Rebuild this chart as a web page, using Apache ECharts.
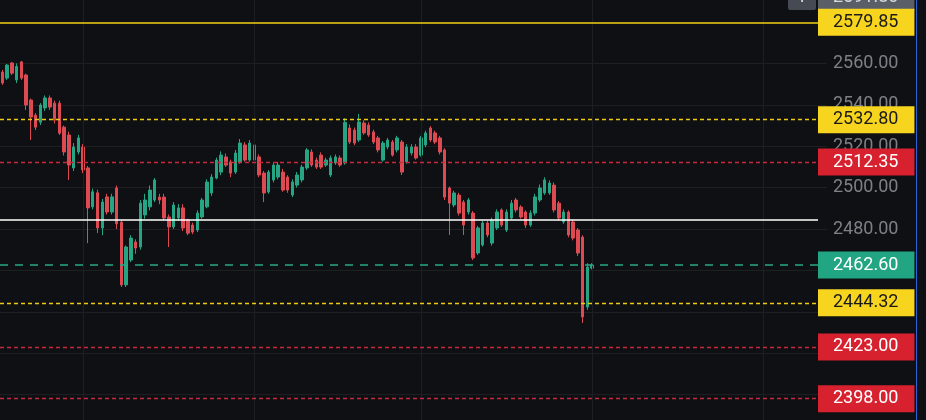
<!DOCTYPE html>
<html>
<head>
<meta charset="utf-8">
<script src="https://cdn.jsdelivr.net/npm/echarts@6/dist/echarts.min.js"></script>
<style>
html,body{margin:0;padding:0;background:#0f1013;}
#chart{width:926px;height:420px;}
</style>
</head>
<body>
<div id="chart"></div>
<script>
// Candles: [open, close, low, high]
const candles = [
  [2555.8,2550.5,2549.6,2556.8],[2552.9,2559.2,2552.0,2559.7],[2560.2,2555.3,2554.4,2560.7],[2552.0,2558.5,2550.5,2560.0],
  [2560.7,2552.9,2552.0,2561.2],[2554.4,2539.9,2537.5,2555.0],[2542.3,2534.1,2523.0,2543.0],[2535.0,2529.2,2527.8,2536.0],
  [2531.6,2539.9,2530.2,2540.8],[2538.5,2543.3,2537.0,2544.5],[2543.3,2538.9,2537.5,2544.5],[2540.8,2532.6,2531.0,2542.0],
  [2540.8,2526.3,2525.4,2542.0],[2529.2,2517.2,2515.5,2530.0],[2525.4,2510.9,2503.7,2527.0],[2509.5,2519.6,2508.0,2521.5],
  [2517.2,2524.0,2516.0,2525.5],[2519.6,2508.5,2507.0,2521.0],[2509.5,2490.2,2473.2,2510.5],[2490.7,2498.0,2489.5,2499.5],
  [2497.5,2480.5,2478.0,2499.0],[2480.5,2493.0,2477.0,2494.5],[2495.5,2488.2,2487.0,2497.0],[2488.2,2495.5,2487.0,2497.0],
  [2499.8,2482.5,2480.0,2501.0],
  [2483.3,2453.0,2452.0,2484.0],[2453.0,2471.3,2452.0,2472.0],[2465.0,2475.6,2464.0,2477.0],[2473.7,2470.8,2468.0,2475.0],
  [2471.3,2492.5,2470.0,2494.0],[2486.8,2494.0,2485.0,2497.0],[2490.7,2498.8,2489.0,2501.0],[2494.0,2503.7,2493.0,2504.6],
  [2495.4,2494.0,2492.0,2497.0],[2495.4,2485.3,2484.0,2497.0],[2485.8,2481.0,2471.3,2487.0],[2481.0,2491.6,2480.0,2493.0],
  [2485.3,2490.2,2484.0,2492.0],[2490.2,2480.5,2479.0,2492.0],[2484.3,2478.0,2477.0,2485.0],[2481.9,2478.5,2477.5,2483.0],
  [2479.5,2487.7,2478.5,2489.0],[2485.8,2494.0,2485.0,2495.0],[2490.7,2502.7,2490.0,2504.0],[2497.4,2505.1,2496.0,2506.5],
  [2504.6,2513.3,2504.0,2514.5],[2507.5,2515.7,2506.0,2517.5],[2514.8,2510.9,2510.0,2516.5],[2512.4,2507.0,2505.0,2513.5],
  [2507.5,2516.7,2506.6,2518.2],[2512.4,2521.5,2511.5,2523.5],[2520.6,2513.3,2512.5,2522.0],[2513.3,2521.5,2512.5,2523.0],
  [2520.6,2513.3,2512.0,2522.0],[2514.8,2506.1,2505.0,2516.0],[2507.0,2497.4,2493.0,2508.0],[2497.9,2507.5,2497.0,2508.5],
  [2503.7,2510.9,2502.5,2512.0],[2505.1,2510.9,2504.0,2512.4],[2507.5,2498.8,2498.0,2509.0],[2505.1,2498.8,2497.5,2506.0],
  [2496.4,2502.7,2495.4,2504.0],[2501.2,2506.1,2500.0,2507.5],[2503.7,2509.9,2502.5,2511.0],[2509.5,2518.2,2508.5,2519.1],
  [2517.2,2510.9,2510.0,2518.5],[2513.3,2509.9,2509.0,2514.5],[2515.7,2509.9,2509.0,2517.0],[2510.9,2513.3,2510.0,2514.5],
  [2506.1,2514.3,2505.1,2515.5],[2511.9,2514.8,2511.0,2516.0],[2514.3,2510.9,2510.0,2515.5],[2511.9,2531.5,2511.0,2533.5],
  [2528.8,2522.0,2521.0,2530.5],[2527.8,2521.5,2520.5,2529.0],[2523.0,2531.7,2522.0,2535.6],[2531.2,2526.4,2525.5,2532.5],
  [2530.2,2525.4,2524.5,2531.5],[2526.9,2522.0,2521.0,2528.0],[2524.0,2518.2,2517.0,2525.0],[2513.3,2521.5,2512.5,2522.5],
  [2519.6,2523.0,2518.5,2524.0],[2522.0,2515.7,2515.0,2523.0],[2518.2,2524.0,2517.0,2525.0],[2522.0,2507.5,2506.1,2523.0],
  [2512.4,2519.6,2511.5,2521.0],[2516.7,2519.6,2515.5,2521.0],[2519.6,2514.3,2513.5,2521.0],[2515.7,2524.0,2515.0,2525.0],
  [2520.6,2526.4,2519.5,2527.5],[2528.8,2523.0,2522.0,2529.7],[2526.4,2522.0,2521.0,2527.5],[2524.0,2517.2,2516.0,2525.0],
  [2518.2,2495.4,2494.0,2519.0],[2499.8,2492.5,2477.1,2500.5],[2491.6,2497.4,2490.5,2498.5],[2496.4,2487.7,2486.5,2497.5],
  [2493.0,2481.9,2477.1,2494.0],
  [2488.2,2494.0,2487.0,2495.0],[2487.7,2466.0,2465.0,2488.7],[2468.4,2480.5,2467.5,2481.5],[2472.3,2482.9,2471.5,2484.0],
  [2482.9,2477.1,2476.0,2484.0],[2473.2,2484.3,2472.0,2485.5],[2480.5,2488.2,2479.5,2489.5],[2489.2,2481.9,2481.0,2490.0],
  [2479.5,2488.2,2478.5,2489.5],[2485.3,2492.5,2484.5,2494.0],[2494.0,2489.2,2488.0,2495.0],[2490.6,2485.8,2485.0,2491.5],
  [2488.2,2481.9,2480.5,2489.0],[2481.9,2487.7,2481.0,2489.0],[2487.7,2495.5,2486.5,2497.0],[2494.0,2499.8,2493.0,2501.5],
  [2497.4,2503.7,2496.5,2505.0],[2497.4,2502.2,2496.5,2503.5],[2501.2,2489.2,2488.0,2502.5],[2492.5,2485.3,2484.0,2493.5],
  [2483.4,2488.2,2482.5,2489.5],[2488.2,2477.1,2476.0,2489.0],[2483.4,2475.6,2474.5,2484.5],[2479.5,2468.4,2467.0,2480.5],
  [2476.1,2437.5,2434.6,2477.0],[2442.3,2461.6,2441.0,2463.5],[2461.1,2462.6,2460.5,2463.5]
];
const slotCount = 172;
const categories = Array.from({length: slotCount}, (_, i) => String(i));
const sessionBreaks = [17, 53, 88, 124, 160];
const levels = [2579.85, 2532.80, 2512.35, 2484.70, 2462.60, 2444.32, 2423.00, 2398.00];
const levelKinds = ['yellowSolid','yellowDot','redDot','white','teal','yellowDot','redDot','redDot'];
const crosshairValue = 2591.80;

const UP = '#26a584', DOWN = '#dd4a52';
const BG = '#0f1013', GRID = '#1d1f23';
const kindStyle = {
  yellowSolid: {line:{color:'#f2cf0f', type:'solid', width:1.5}, bg:'#f7d51f', fg:'#1a1a1a', show:true},
  yellowDot: {line:{color:'#eccb12', type:[4,3], width:1.3}, bg:'#f7d51f', fg:'#1a1a1a', show:true},
  redDot: {line:{color:'#c62a3c', type:[4,3], width:1.3}, bg:'#d8212f', fg:'#ffffff', show:true},
  white: {line:{color:'#ffffff', type:'solid', width:1.5}, show:false},
  teal: {line:{color:'#2aa688', type:[8,7], width:1.5}, bg:'#22a582', fg:'#ffffff', show:true}
};

const labelBase = {position:'end', distance:0, fontSize:18, fontFamily:'Roboto', padding:[5,16,4,15], lineHeight:18,
  formatter: p => Number(p.value).toFixed(2)};

const mlData = [];
sessionBreaks.forEach(i => mlData.push({xAxis: categories[i], lineStyle:{color:GRID, type:'solid', width:1}, label:{show:false}}));
mlData.push({yAxis: crosshairValue, lineStyle:{color:'rgba(0,0,0,0)', width:1, type:'solid'},
  label: Object.assign({}, labelBase, {show:true, backgroundColor:'#5a5e67', color:'#d6d8dc'})});
levels.forEach((v, i) => {
  const s = kindStyle[levelKinds[i]];
  mlData.push({yAxis: v, lineStyle: s.line,
    label: s.show ? Object.assign({}, labelBase, {show:true, backgroundColor:s.bg, color:s.fg}) : {show:false}});
});

const chart = echarts.init(document.getElementById('chart'), null, {renderer:'canvas'});
chart.setOption({
  backgroundColor: BG,
  animation: false,
  textStyle: {fontFamily: 'Roboto'},
  grid: {left: 0, right: 108, top: -19.4, bottom: -16, containLabel: false, outerBoundsMode: 'none'},
  xAxis: {type:'category', data: categories, boundaryGap: true,
    axisLine:{show:false}, axisTick:{show:false}, axisLabel:{show:false}, splitLine:{show:false}},
  yAxis: {type:'value', position:'right', min:2380, max:2600, interval:20,
    axisLine:{show:false},
    axisTick:{show:true, length:9, lineStyle:{color:GRID}},
    axisLabel:{margin:15, color:'#7d8087', fontSize:18, fontFamily:'Roboto', formatter: v => v.toFixed(2)},
    splitLine:{show:true, lineStyle:{color:GRID, width:1}}},
  series: [{
    type: 'candlestick',
    data: candles,
    barWidth: 3,
    itemStyle: {color: UP, color0: DOWN, borderColor: UP, borderColor0: DOWN, borderWidth: 1},
    markLine: {silent: true, symbol: ['none','none'], animation: false, data: mlData}
  }],
  graphic: [
    {type:'rect', shape:{x:788, y:-12, width:28, height:22, r:2}, style:{fill:'#464a53'}, silent:true},
    {type:'text', style:{x:802, y:-1, text:'+', fill:'#e0e0e0', font:'18px Roboto', textAlign:'center', textVerticalAlign:'middle'}, silent:true},
    {type:'line', shape:{x1:916.5, y1:0, x2:916.5, y2:420}, style:{stroke:'#2c63d8', lineWidth:1}, silent:true}
  ]
});
</script>
</body>
</html>
